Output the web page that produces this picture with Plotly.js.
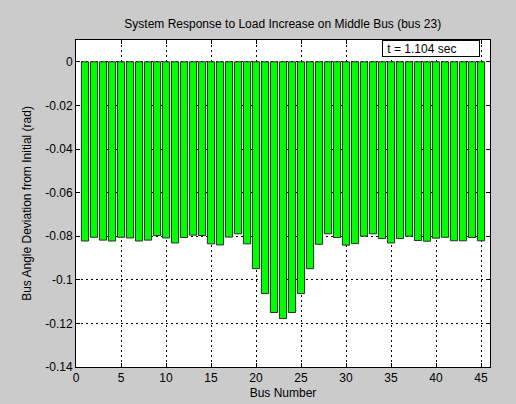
<!DOCTYPE html>
<html>
<head>
<meta charset="utf-8">
<script src="https://cdn.plot.ly/plotly-3.0.1.min.js"></script>
<style>
html,body{margin:0;padding:0;background:#c8c8c8;}
#chart{width:516px;height:404px;}
</style>
</head>
<body>
<div id="chart"></div>
<script>
const busNumbers = [1,2,3,4,5,6,7,8,9,10,11,12,13,14,15,16,17,18,19,20,21,22,23,24,25,26,27,28,29,30,31,32,33,34,35,36,37,38,39,40,41,42,43,44,45];
const angleDeviation = [
  -0.0822,-0.0805,-0.0818,-0.0822,-0.0805,-0.0808,-0.0822,-0.0818,-0.0797,-0.0808,
  -0.0831,-0.0806,-0.0795,-0.0797,-0.0835,-0.0840,-0.0804,-0.0789,-0.0835,-0.0949,
  -0.1063,-0.1150,-0.1178,-0.1150,-0.1063,-0.0949,-0.0837,-0.0789,-0.0806,-0.0841,
  -0.0834,-0.0800,-0.0789,-0.0811,-0.0831,-0.0811,-0.0800,-0.0820,-0.0823,-0.0809,
  -0.0805,-0.0821,-0.0821,-0.0806,-0.0821
];
const xTickVals = [0,5,10,15,20,25,30,35,40,45];
const yTickVals = [-0.14,-0.12,-0.1,-0.08,-0.06,-0.04,-0.02,0];
const yTickText = ['-0.14','-0.12','-0.1','-0.08','-0.06','-0.04','-0.02','0'];
const titleText = 'System Response to Load Increase on Middle Bus (bus 23)';
const timeLabel = '&nbsp;t = 1.104 sec';

const font = {family: 'Liberation Sans, Arial, sans-serif', size: 12, color: '#000'};

const trace = {
  type: 'bar',
  x: busNumbers,
  y: angleDeviation,
  width: 0.8,
  marker: {color: '#00ff00', line: {color: '#2a2a2a', width: 1}},
  hoverinfo: 'x+y'
};

const layout = {
  width: 516, height: 404,
  paper_bgcolor: '#cbcbcb',
  plot_bgcolor: '#ffffff',
  margin: {l: 76, r: 26, t: 40, b: 37},
  font: font,
  showlegend: false,
  title: {text: titleText, font: {family: font.family, size: 12, color: '#000'}, x: 0.548, xanchor: 'center', y: 0.94, yanchor: 'middle'},
  xaxis: {
    range: [0, 46], tickvals: xTickVals,
    ticks: 'inside', ticklen: 4, tickcolor: '#000',
    showline: true, linecolor: '#000', linewidth: 1, mirror: 'ticks',
    showgrid: true, gridcolor: '#000', gridwidth: 1, griddash: '2px,3px',
    zeroline: false,
    tickfont: {family: font.family, size: 12, color: '#000'},
    title: {text: 'Bus Number', font: {family: font.family, size: 12, color: '#000'}, standoff: 4}
  },
  yaxis: {
    range: [-0.14, 0.01], tickvals: yTickVals, ticktext: yTickText,
    ticks: 'inside', ticklen: 4, tickcolor: '#000',
    showline: true, linecolor: '#000', linewidth: 1, mirror: 'ticks',
    showgrid: true, gridcolor: '#000', gridwidth: 1, griddash: '2px,3px',
    zeroline: false,
    tickfont: {family: font.family, size: 12, color: '#000'},
    title: {text: 'Bus Angle Deviation from Initial (rad)', font: {family: font.family, size: 12, color: '#000'}, standoff: 11}
  },
  annotations: [{
    xref: 'paper', yref: 'paper', x: 0.976, y: 1.0, xanchor: 'right', yanchor: 'top',
    text: timeLabel, showarrow: false, align: 'left',
    width: 94, height: 13,
    bgcolor: '#ffffff', bordercolor: '#000', borderwidth: 1, borderpad: 1,
    font: {family: font.family, size: 12, color: '#000'}
  }]
};

Plotly.newPlot('chart', [trace], layout, {displayModeBar: false, staticPlot: true});
</script>
</body>
</html>
